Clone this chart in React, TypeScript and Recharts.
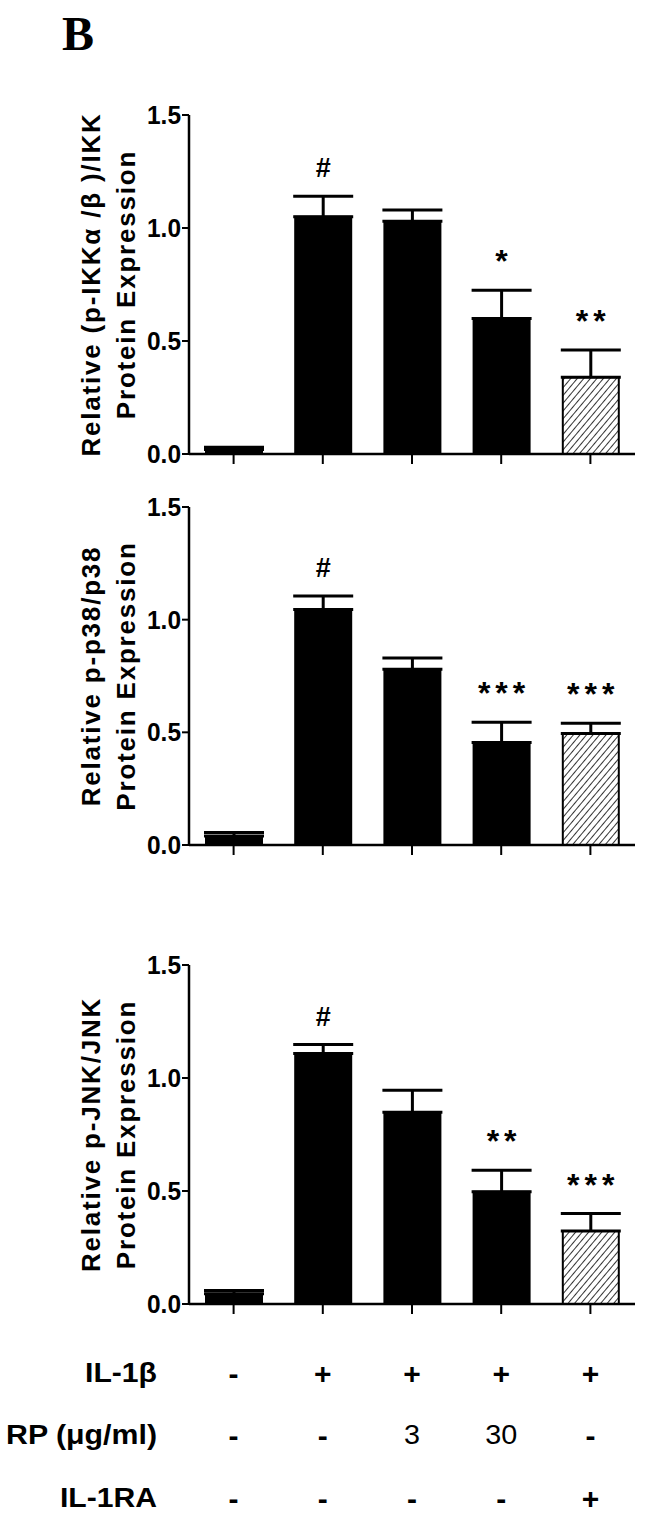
import React from "react";
import { Bar, BarChart, Cell, ErrorBar, LabelList, XAxis, YAxis } from "recharts";

const groups = ["ctrl", "il1b", "rp3", "rp30", "il1ra"];

const ikkMean = [0.02, 1.05, 1.03, 0.6, 0.34];
const ikkSem = [0.01, 0.09, 0.05, 0.125, 0.12];
const ikkMarks = ["", "#", "", "*", "**"];

const p38Mean = [0.04, 1.045, 0.78, 0.455, 0.495];
const p38Sem = [0.015, 0.06, 0.05, 0.09, 0.045];
const p38Marks = ["", "#", "", "***", "***"];

const jnkMean = [0.045, 1.108, 0.848, 0.497, 0.323];
const jnkSem = [0.015, 0.04, 0.098, 0.095, 0.077];
const jnkMarks = ["", "#", "", "**", "***"];

const yTicks = [0, 0.5, 1.0, 1.5];

const rowLabels = ["IL-1β", "RP (μg/ml)", "IL-1RA"];
const il1bRow = ["-", "+", "+", "+", "+"];
const rpRow = ["-", "-", "3", "30", "-"];
const il1raRow = ["-", "-", "-", "-", "+"];

const SANS = "'Liberation Sans', Arial, sans-serif";
const AXIS_X = 189;

const buildRows = (mean: number[], sem: number[], marks: string[]) =>
  groups.map((g, i) => ({
    group: g,
    value: mean[i],
    sem: sem[i],
    err: [0, sem[i]],
    mark: marks[i],
  }));

function MarkLabel(props: any) {
  const { x, y, width, height, value, index, rows } = props;
  if (!value) return null;
  const row = rows[index];
  const pxPerUnit = row.value > 0 ? height / row.value : 0;
  const top = y - row.sem * pxPerUnit;
  const isHash = value === "#";
  return (
    <text
      x={x + width / 2 + (isHash ? 0 : 2.5)}
      y={top - (isHash ? 19 : 18)}
      textAnchor="middle"
      fontFamily={SANS}
      fontWeight="bold"
      fontSize={isHash ? 27 : 32}
      letterSpacing={isHash ? 0 : 5}
      fill="#000"
    >
      {value}
    </text>
  );
}

function YTick(props: any) {
  const { x, y, payload } = props;
  return (
    <text
      x={x}
      y={y}
      dy={9}
      textAnchor="end"
      fontFamily={SANS}
      fontWeight="bold"
      fontSize={26}
      textLength={34}
      lengthAdjust="spacingAndGlyphs"
      fill="#000"
    >
      {Number(payload.value).toFixed(1)}
    </text>
  );
}

const labelWidths = [72, 151, 97];

function ConditionTick(props: any) {
  const { x, y, index } = props;
  const rowsY = [59, 121, 184];
  const vals = [il1bRow[index], rpRow[index], il1raRow[index]];
  return (
    <g>
      {vals.map((v, r) => {
        const numeric = v !== "+" && v !== "-";
        return (
          <text
            key={r}
            x={x}
            y={y + rowsY[r]}
            textAnchor="middle"
            dominantBaseline="central"
            fontFamily={SANS}
            fontWeight={numeric ? "normal" : "bold"}
            fontSize={numeric ? 27 : 30}
            textLength={numeric ? v.length * 16 : undefined}
            lengthAdjust="spacingAndGlyphs"
            fill="#000"
          >
            {v}
          </text>
        );
      })}
      {index === 0 &&
        rowLabels.map((l, r) => (
          <text
            key={"l" + r}
            x={157}
            y={y + rowsY[r]}
            textAnchor="end"
            dominantBaseline="central"
            fontFamily={SANS}
            fontWeight="bold"
            fontSize={27}
            textLength={labelWidths[r]}
            lengthAdjust="spacingAndGlyphs"
            fill="#000"
          >
            {l}
          </text>
        ))}
    </g>
  );
}

type PanelProps = {
  rows: ReturnType<typeof buildRows>;
  id: string;
  lines: string[];
  height: number;
  top: number;
  plotHeight: number;
  showRows?: boolean;
};

function Panel({ rows, id, lines, height, top, plotHeight, showRows }: PanelProps) {
  return (
    <BarChart
      width={646}
      height={height}
      data={rows}
      margin={{ top, right: 11, bottom: height - top - plotHeight - 30, left: 0 }}
      barSize={56}
    >
      <defs>
        <pattern
          id={id}
          patternUnits="userSpaceOnUse"
          width={5}
          height={5}
          patternTransform="rotate(40)"
        >
          <rect width={5} height={5} fill="#fff" />
          <line x1={0} y1={0} x2={0} y2={5} stroke="#000" strokeWidth={1.6} />
        </pattern>
      </defs>
      <XAxis
        dataKey="group"
        type="category"
        height={30}
        axisLine={{ stroke: "#000", strokeWidth: 2.5 }}
        tickLine={{ stroke: "#000", strokeWidth: 2 }}
        tickSize={10}
        tickMargin={0}
        interval={0}
        tick={showRows ? <ConditionTick /> : () => <g />}
      />
      <YAxis
        type="number"
        domain={[0, 1.5]}
        ticks={yTicks}
        width={AXIS_X}
        axisLine={{ stroke: "#000", strokeWidth: 2.5 }}
        tickLine={{ stroke: "#000", strokeWidth: 2 }}
        tickSize={7}
        tickMargin={1}
        tick={<YTick />}
        label={(p: any) => {
          const vb = p.viewBox;
          const cy = vb.y + vb.height / 2;
          return (
            <g>
              {lines.map((t, i) => (
                <text
                  key={i}
                  x={0}
                  y={0}
                  transform={`translate(${91 + i * 35}, ${cy}) rotate(-90)`}
                  textAnchor="middle"
                  dominantBaseline="central"
                  fontFamily={SANS}
                  fontWeight="bold"
                  fontSize={26}
                  letterSpacing={1.8}
                  fill="#000"
                >
                  {t}
                </text>
              ))}
            </g>
          );
        }}
      />
      <Bar dataKey="value" isAnimationActive={false} stroke="#000" strokeWidth={2}>
        {rows.map((r, i) => (
          <Cell key={r.group} fill={i === 4 ? `url(#${id})` : "#000"} />
        ))}
        <ErrorBar
          dataKey="err"
          direction="y"
          width={30}
          stroke="#000"
          strokeWidth={3}
          isAnimationActive={false}
        />
        <LabelList dataKey="mark" content={<MarkLabel rows={rows} />} />
      </Bar>
    </BarChart>
  );
}

export default function App() {
  const ikk = buildRows(ikkMean, ikkSem, ikkMarks);
  const p38 = buildRows(p38Mean, p38Sem, p38Marks);
  const jnk = buildRows(jnkMean, jnkSem, jnkMarks);
  return (
    <div
      style={{
        position: "absolute",
        left: 0,
        top: 0,
        width: 646,
        height: 1527,
        background: "#fff",
        overflow: "hidden",
      }}
    >
      <div
        style={{
          position: "absolute",
          left: 62,
          top: 9,
          fontFamily: "'Liberation Serif', 'Times New Roman', serif",
          fontWeight: "bold",
          fontSize: 48,
          lineHeight: "50px",
        }}
      >
        B
      </div>
      <div style={{ position: "absolute", left: 0, top: 0 }}>
        <Panel
          rows={ikk}
          id="hatch-ikk"
          lines={["Relative (p-IKKα /β )/IKK", "Protein Expression"]}
          top={115}
          plotHeight={339}
          height={484}
        />
      </div>
      <div style={{ position: "absolute", left: 0, top: 484 }}>
        <Panel
          rows={p38}
          id="hatch-p38"
          lines={["Relative p-p38/p38", "Protein Expression"]}
          top={23}
          plotHeight={338}
          height={391}
        />
      </div>
      <div style={{ position: "absolute", left: 0, top: 875 }}>
        <Panel
          rows={jnk}
          id="hatch-jnk"
          lines={["Relative p-JNK/JNK", "Protein Expression"]}
          top={90}
          plotHeight={339}
          height={652}
          showRows
        />
      </div>
    </div>
  );
}
